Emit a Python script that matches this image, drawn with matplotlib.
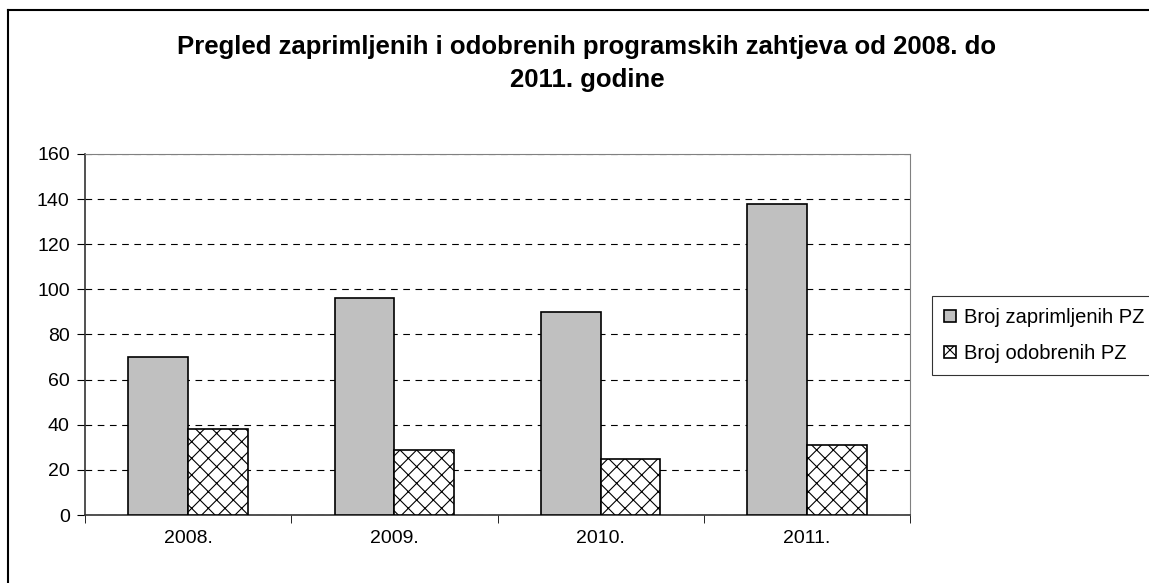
import numpy as np
import matplotlib
matplotlib.use("Agg")
import matplotlib.pyplot as plt
from matplotlib.lines import Line2D

plt.rcParams['font.family'] = ['Liberation Sans', 'DejaVu Sans']
plt.rcParams['hatch.linewidth'] = 0.8

years = ["2008.", "2009.", "2010.", "2011."]
zaprimljeni = [70, 96, 90, 138]
odobreni = [38, 29, 25, 31]
labels = ["Broj zaprimljenih PZ", "Broj odobrenih PZ"]

fig = plt.figure(figsize=(11.49, 5.83), dpi=100)
ax = fig.add_axes([85 / 1149, 1 - 515 / 583, 825 / 1149, 361 / 583])

x = np.arange(len(years))
w = 0.29
ax.bar(x - w / 2, zaprimljeni, w, color="#c0c0c0", edgecolor="black",
       linewidth=1.2, label=labels[0], zorder=3)
ax.bar(x + w / 2, odobreni, w, color="white", edgecolor="black",
       linewidth=1.2, hatch="xx", label=labels[1], zorder=3)

ax.set_xlim(-0.5, len(years) - 0.5)
ax.set_ylim(0, 160)
ax.set_yticks(range(0, 161, 20))
ax.yaxis.grid(True, linestyle=(0, (6, 5)), color="black", linewidth=0.8)
ax.set_axisbelow(True)

ax.set_xticks(x)
ax.set_xticklabels(years)
ax.tick_params(axis="x", length=0, labelsize=14, pad=11)
ax.set_xticks(np.arange(-0.5, len(years)), minor=True)
ax.tick_params(axis="x", which="minor", length=6, direction="out")
ax.tick_params(axis="y", length=6, direction="out", labelsize=14, pad=5)

for s in ["top", "right"]:
    ax.spines[s].set_color("#808080")
for s in ["left", "bottom"]:
    ax.spines[s].set_color("#333333")
    ax.spines[s].set_linewidth(1.2)

fig.text(587 / 1149, 1 - 35 / 583,
         "Pregled zaprimljenih i odobrenih programskih zahtjeva od 2008. do\n2011. godine",
         ha="center", va="top", fontsize=18.5, fontweight="bold",
         linespacing=1.45, multialignment="center")

leg = ax.legend(loc="upper left", bbox_to_anchor=(932 / 1149, 1 - 296 / 583),
                bbox_transform=fig.transFigure, frameon=True, fancybox=False,
                fontsize=14.5, handlelength=0.6, handleheight=0.6,
                handletextpad=0.4, borderpad=0.6, labelspacing=0.85,
                borderaxespad=0)
leg.get_frame().set_edgecolor("black")
leg.get_frame().set_linewidth(0.8)

# outer chart frame (only top and left edges are visible)
fig.add_artist(Line2D([8 / 1149, 1], [1 - 10 / 583, 1 - 10 / 583],
                      transform=fig.transFigure, color="black", linewidth=1.5))
fig.add_artist(Line2D([8 / 1149, 8 / 1149], [0, 1 - 10 / 583],
                      transform=fig.transFigure, color="black", linewidth=1.5))

fig.savefig("out.png", dpi=100)
